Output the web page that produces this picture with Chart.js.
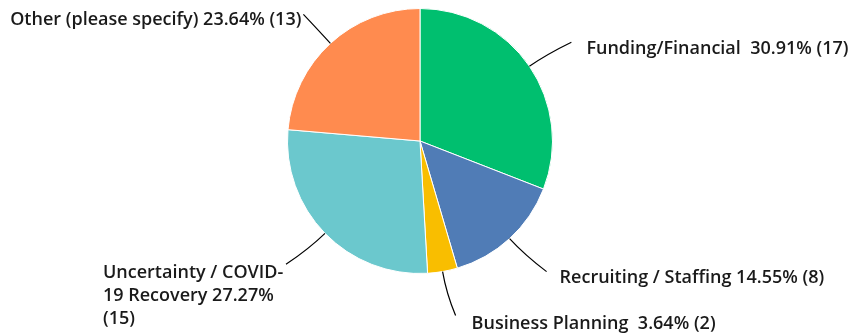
<!DOCTYPE html>
<html>
<head>
<meta charset="utf-8">
<script src="https://cdn.jsdelivr.net/npm/chart.js@4.4.0/dist/chart.umd.min.js"></script>
<style>
html, body { margin: 0; padding: 0; background: #fff; }
#wrap { width: 848px; height: 333px; }
</style>
</head>
<body>
<div id="wrap"><canvas id="pie-chart"></canvas></div>
<script>
const categorias = ["Funding/Financial ", "Recruiting / Staffing", "Business Planning ", "Uncertainty / COVID-19 Recovery", "Other (please specify)"]
const respuestas = [17, 8, 2, 15, 13]
const porcentajes = ["30.91%", "14.55%", "3.64%", "27.27%", "23.64%"]
const colores = ["#00BF6F", "#507CB6", "#F9BE00", "#6BC8CD", "#FF8B4F"]

// leader line end relative to slice edge, and text placement relative to line end
const lineaFin = [[42, -24], [37, 33], [13, 44], [-39, 31], [-27, -29]]
const textoPos = [[15, 7, "left"], [13, 6, "left"], [16, 8, "left"], [-183, 9, "block"], [-2, 5, "right"]]
const FUENTE = "600 18px 'Open Sans'"

function envolver(ctx, texto, ancho) {
    // pieces break after spaces and after hyphens
    let piezas = texto.match(/[^\s-]+-?\s*|-\s*/g)
    let lineas = []
    let actual = ""
    for (let p of piezas) {
        let prueba = actual + p
        if (ctx.measureText(prueba.trimEnd()).width > ancho && actual) {
            lineas.push(actual.trimEnd())
            actual = p
        } else actual = prueba
    }
    if (actual) lineas.push(actual.trimEnd())
    return lineas
}

const etiquetasPlugin = {
    id: "etiquetas",
    afterDraw(chart) {
        let ctx = chart.ctx
        let arcos = chart.getDatasetMeta(0).data
        ctx.save()
        ctx.font = FUENTE
        ctx.fillStyle = "#1a1a1a"
        ctx.strokeStyle = "#000"
        ctx.lineWidth = 1.2
        arcos.forEach((arc, i) => {
            let mid = (arc.startAngle + arc.endAngle) / 2
            let r = arc.outerRadius
            let px = arc.x + Math.cos(mid) * r
            let py = arc.y + Math.sin(mid) * r
            let ex = px + lineaFin[i][0]
            let ey = py + lineaFin[i][1]
            let cx = px + Math.cos(mid) * 22
            let cy = py + Math.sin(mid) * 22
            ctx.beginPath()
            ctx.moveTo(px, py)
            ctx.quadraticCurveTo(cx, cy, ex, ey)
            ctx.stroke()

            let texto = categorias[i] + " " + porcentajes[i] + " (" + respuestas[i] + ")"
            let [tx, ty, modo] = textoPos[i]
            ctx.textBaseline = "middle"
            if (modo === "block") {
                ctx.textAlign = "left"
                let lineas = envolver(ctx, texto, 190)
                lineas.forEach((l, k) => ctx.fillText(l, ex + tx, ey + ty + k * 23))
            } else {
                ctx.textAlign = modo
                ctx.fillText(texto, ex + tx, ey + ty)
            }
        })
        ctx.restore()
    }
}

let canvas = document.getElementById("pie-chart")
let myChart = new Chart(canvas.getContext("2d"), {
    type: "pie",
    data: {
        labels: categorias,
        datasets: [{
            data: respuestas,
            backgroundColor: colores,
            borderColor: "#fff",
            borderWidth: 1
        }]
    },
    options: {
        responsive: true,
        maintainAspectRatio: false,
        animation: false,
        layout: { padding: { top: 8, bottom: 59, left: 0, right: 8 } },
        plugins: {
            legend: { display: false },
            tooltip: { enabled: false }
        }
    },
    plugins: [etiquetasPlugin]
})
</script>
</body>
</html>
